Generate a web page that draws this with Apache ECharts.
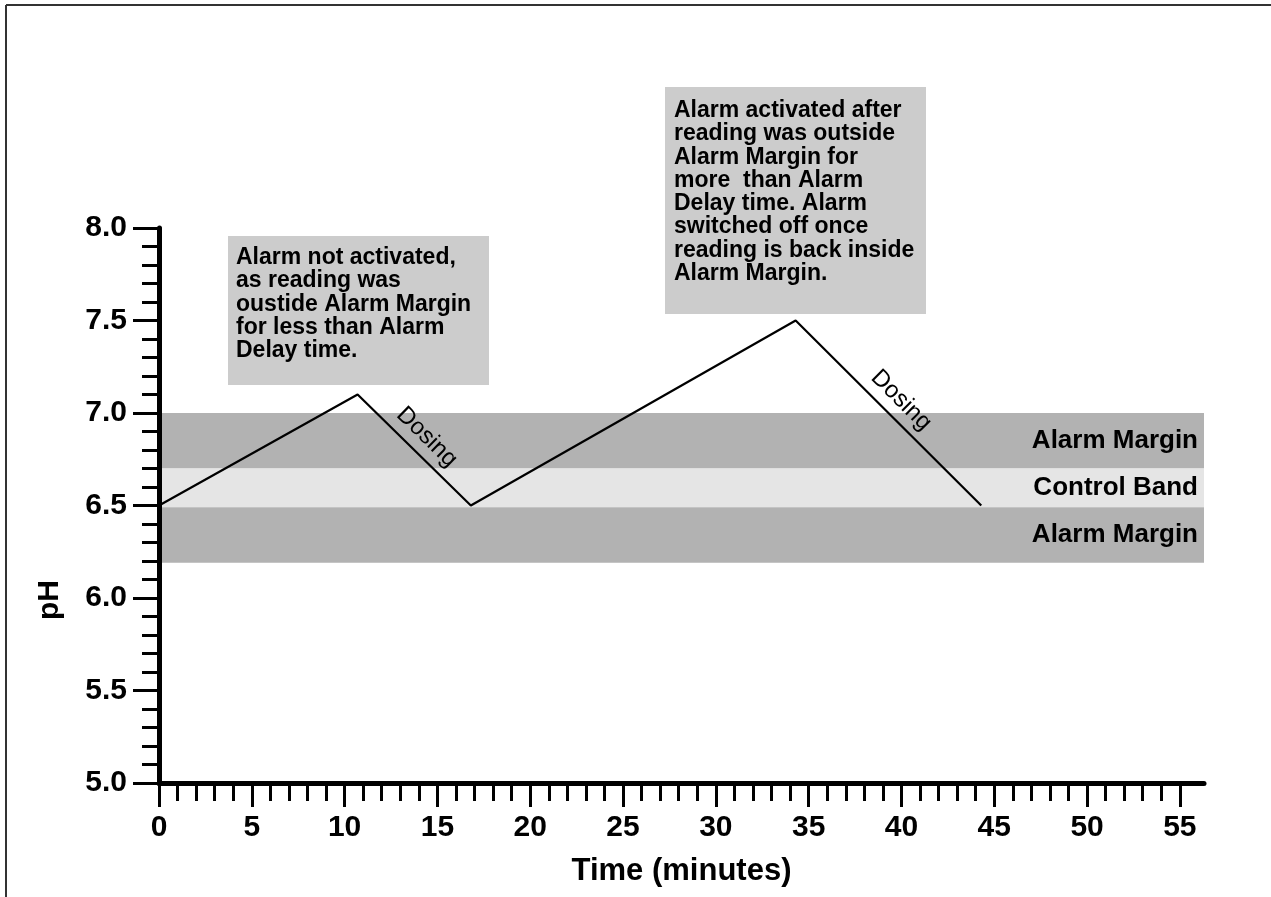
<!DOCTYPE html>
<html>
<head>
<meta charset="utf-8">
<script src="https://cdn.jsdelivr.net/npm/echarts@6/dist/echarts.min.js"></script>
<style>html,body{margin:0;padding:0;background:#fff}#c{width:1271px;height:897px}</style>
</head>
<body>
<div id="c"></div>
<script>
// ---- data ----
const timeMin = [0, 10.7, 16.8, 34.3, 44.3];
const phValues = [6.5, 7.1, 6.5, 7.5, 6.5];
const bandNames = ['Alarm Margin', 'Control Band', 'Alarm Margin'];
const bandLow = [6.7, 6.49, 6.19];
const bandHigh = [7.0, 6.7, 6.49];
const bandColors = ['#b2b2b2', '#e5e5e5', '#b2b2b2'];
const dosingSegments = [[1, 2], [3, 4]]; // indices into timeMin/phValues
const xMajorTicks = [0, 5, 10, 15, 20, 25, 30, 35, 40, 45, 50, 55];
const xMinorTicks = [1,2,3,4,6,7,8,9,11,12,13,14,16,17,18,19,21,22,23,24,26,27,28,29,31,32,33,34,36,37,38,39,41,42,43,44,46,47,48,49,51,52,53,54];
const note1 = ['Alarm not activated,', 'as reading was', 'oustide Alarm Margin', 'for less than Alarm', 'Delay time.'];
const note2 = ['Alarm activated after', 'reading was outside', 'Alarm Margin for', 'more  than Alarm', 'Delay time. Alarm', 'switched off once', 'reading is back inside', 'Alarm Margin.'];

const FONT = '"Liberation Sans", Arial, sans-serif';
const chart = echarts.init(document.getElementById('c'));

const lineData = timeMin.map((t, i) => [t, phValues[i]]);
const areas = bandNames.map((n, i) => [
  { name: n, yAxis: bandLow[i], itemStyle: { color: bandColors[i] } },
  { yAxis: bandHigh[i] }
]);
const dosingLines = dosingSegments.map(([a, b]) => [
  { coord: [timeMin[a], phValues[a]] },
  { coord: [timeMin[b], phValues[b]] }
]);

const tickLabel = { fontFamily: FONT, fontWeight: 'bold', fontSize: 30, color: '#000' };

chart.setOption({
  animation: false,
  backgroundColor: '#fff',
  grid: { left: 159, right: 67, top: 228, bottom: 114 },
  xAxis: [{
    type: 'value', min: 0, max: 56.3, z: 5,
    axisLine: { lineStyle: { color: '#000', width: 5 } },
    axisTick: { customValues: xMajorTicks, length: 24, lineStyle: { color: '#000', width: 3 } },
    axisLabel: Object.assign({ customValues: xMajorTicks, margin: 30 }, tickLabel),
    splitLine: { show: false },
    name: 'Time (minutes)', nameLocation: 'middle', nameGap: 73,
    nameTextStyle: { fontFamily: FONT, fontWeight: 'bold', fontSize: 31, color: '#000' }
  }, {
    type: 'value', min: 0, max: 56.3, z: 5, position: 'bottom',
    axisLine: { show: false },
    axisTick: { customValues: xMinorTicks, length: 18, lineStyle: { color: '#000', width: 3 } },
    axisLabel: { show: false },
    splitLine: { show: false }
  }],
  yAxis: {
    type: 'value', min: 5, max: 8, interval: 0.5, z: 5,
    axisLine: { show: true, lineStyle: { color: '#000', width: 5 } },
    axisTick: { show: true, length: 26, lineStyle: { color: '#000', width: 3 } },
    minorTick: { show: true, splitNumber: 5, length: 17, lineStyle: { color: '#000', width: 3 } },
    axisLabel: Object.assign({ margin: 32, formatter: v => v.toFixed(1) }, tickLabel),
    splitLine: { show: false }
  },
  series: [{
    type: 'line',
    data: lineData,
    symbol: 'none',
    lineStyle: { color: '#000', width: 2.2 },
    z: 4,
    markArea: {
      silent: true,
      label: { position: 'insideRight', distance: 6, fontFamily: FONT, fontWeight: 'bold', fontSize: 26, color: '#000' },
      data: areas
    },
    markLine: {
      silent: true,
      symbol: 'none',
      lineStyle: { color: 'rgba(0,0,0,0)', width: 1, type: 'solid' },
      label: { show: true, position: 'middle', formatter: 'Dosing', fontFamily: FONT, fontSize: 24, color: '#000', distance: 6 },
      data: dosingLines
    }
  }],
  graphic: [
    { type: 'line', shape: { x1: 6, y1: 5, x2: 1271, y2: 5 }, style: { stroke: '#333', lineWidth: 2 } },
    { type: 'line', shape: { x1: 6, y1: 5, x2: 6, y2: 897 }, style: { stroke: '#333', lineWidth: 2 } },
    { type: 'rect', shape: { x: 228, y: 236, width: 261, height: 149 }, style: { fill: '#cccccc' }, z: 10 },
    { type: 'text', x: 236, y: 246, z: 11, style: { text: note1.join('\n'), font: 'bold 23px ' + FONT, lineHeight: 23.3, fill: '#000' } },
    { type: 'rect', shape: { x: 665, y: 87, width: 261, height: 227 }, style: { fill: '#cccccc' }, z: 10 },
    { type: 'text', x: 674, y: 99, z: 11, style: { text: note2.join('\n'), font: 'bold 23px ' + FONT, lineHeight: 23.3, fill: '#000' } },
    { type: 'text', x: 50, y: 600, rotation: Math.PI / 2, z: 11, style: { text: 'pH', font: 'bold 30px ' + FONT, fill: '#000', align: 'center', verticalAlign: 'middle' } }
  ]
});
</script>
</body>
</html>
